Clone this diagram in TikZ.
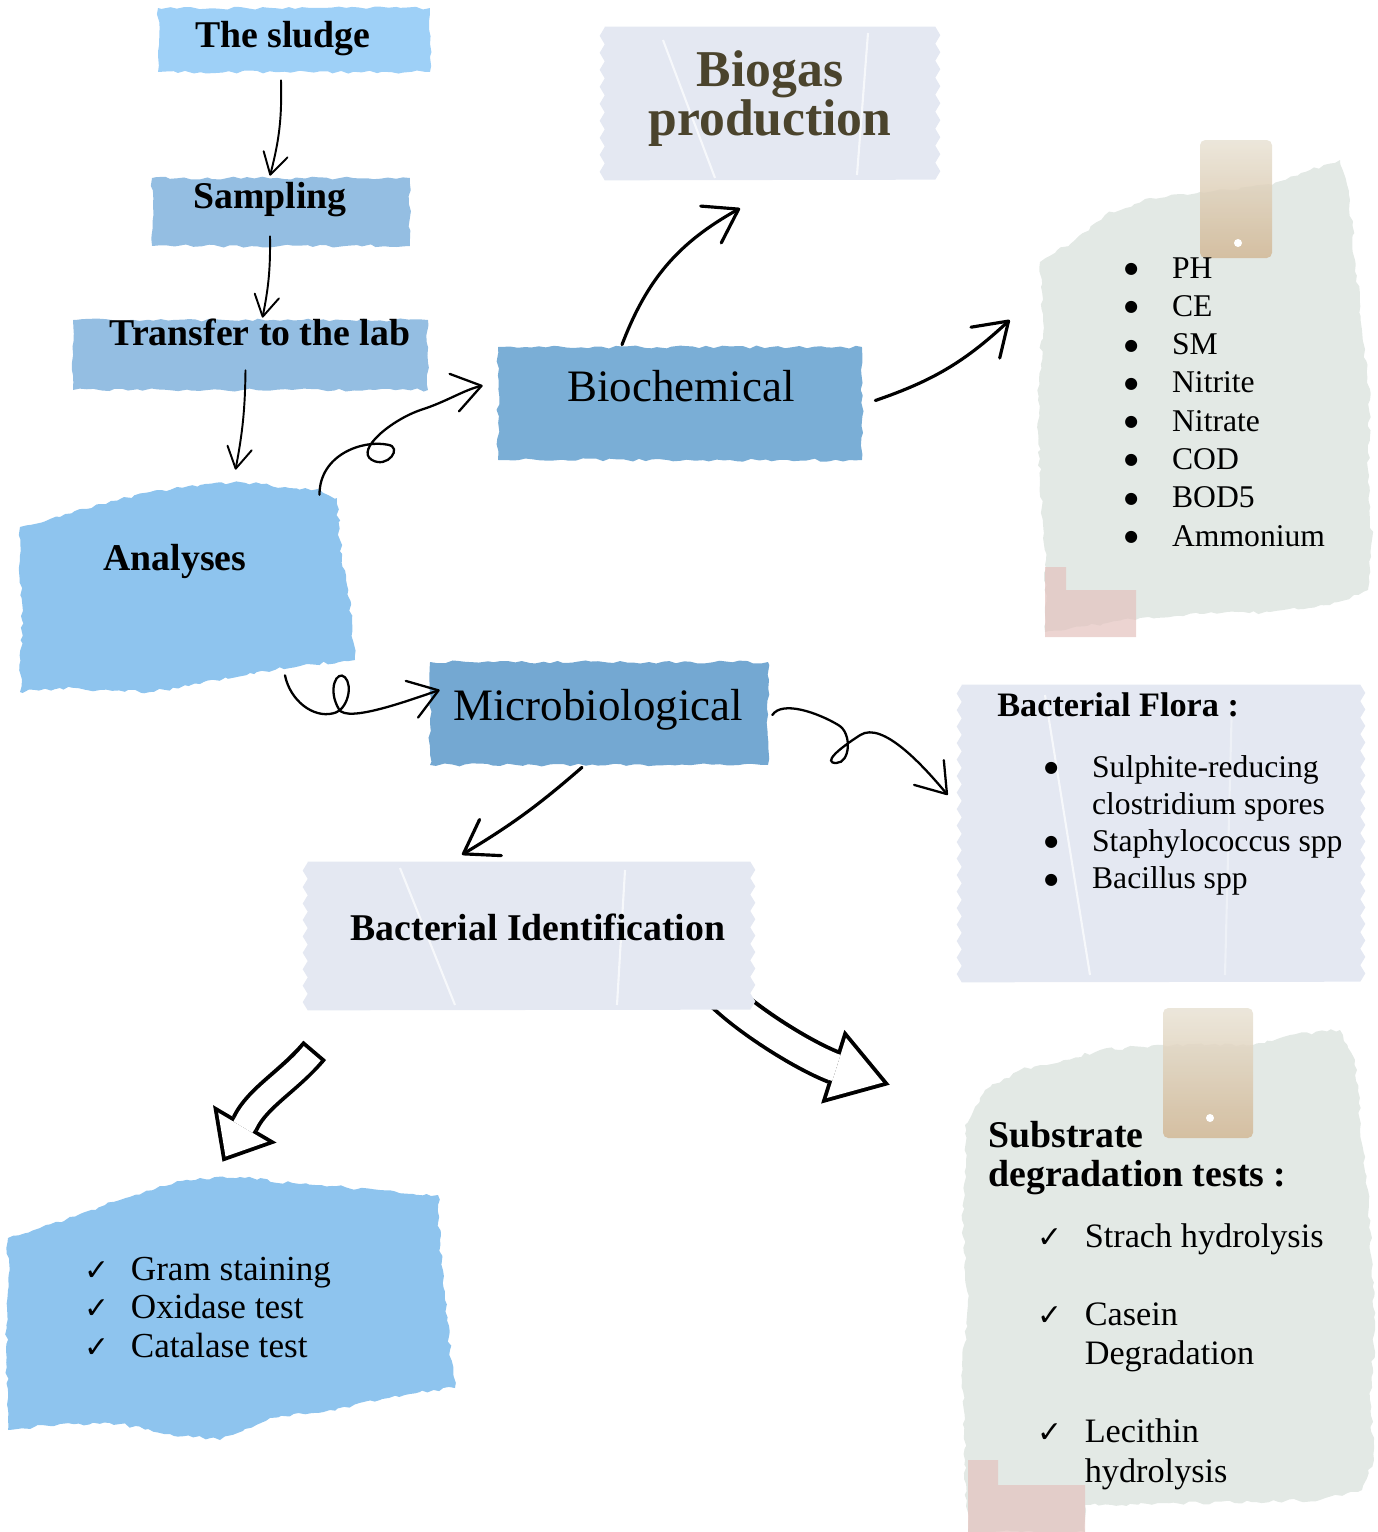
\documentclass[tikz,border=0pt]{standalone}
\usepackage{fontspec}
\setmainfont{Liberation Serif}
\newfontfamily\symbfont{DejaVu Sans}
\usepackage{tikz}
\usetikzlibrary{arrows.meta,decorations.pathmorphing,backgrounds,calc}

\definecolor{sludgeblue}{RGB}{158,208,247}
\definecolor{sampblue}{RGB}{148,190,226}
\definecolor{paperblue}{RGB}{142,196,238}
\definecolor{chemblue}{RGB}{122,174,214}
\definecolor{microblue}{RGB}{116,168,210}
\definecolor{tapegray}{RGB}{228,232,242}
\definecolor{papergray}{RGB}{227,233,229}
\definecolor{tagtan}{RGB}{210,184,150}
\definecolor{taglight}{RGB}{232,226,212}
\definecolor{tapepink}{RGB}{228,194,190}
\definecolor{biogastext}{RGB}{75,68,45}

\newcommand{\checkmk}{\makebox[14pt][l]{\symbfont\fontsize{17}{17}\selectfont ✓}}
\newcommand{\bul}{\makebox[8pt][l]{\raisebox{2.6pt}{\symbfont\fontsize{9}{9}\selectfont ●}}}

\pgfmathsetseed{11}

\begin{document}
\begin{tikzpicture}[
  x=0.02cm, y=-0.02cm,
  tape/.style={fill=#1, inner sep=0pt, decorate, decoration={random steps, segment length=4pt, amplitude=0.9pt}},
  clear/.style={inner sep=0pt},
  torn/.style={decorate, decoration={random steps, segment length=3pt, amplitude=1pt}},
  crease/.style={white, line width=1.2pt, opacity=0.7},
  boldtxt/.style={font=\fontsize{21.5}{24}\selectfont\bfseries, inner sep=0pt, anchor=base},
  bigtxt/.style={font=\fontsize{25.6}{30}\selectfont, inner sep=0pt, anchor=base},
  listtxt/.style={inner sep=0pt, anchor=base west},
  pen/.style={line width=1.1pt, line cap=round, -{Straight Barb[round, length=12pt, width=14pt]}},
  curl/.style={line width=1.3pt, line cap=round, -{Straight Barb[round, length=16pt, width=22pt]}},
  bigpen/.style={line width=1.8pt, line cap=round, -{Straight Barb[round, length=18pt, width=24pt]}},
  outline/.style n args={3}{line width=#1, -{Triangle[length=#2, width=#3, line width=0pt]}},
  hollow/.style n args={4}{white, line width=#1, shorten <=2.2pt, shorten >=#4,
    -{Triangle[length=#2, width=#3, line width=0pt]}},
]
\useasboundingbox (0,0) rectangle (1378,1532);

% --- torn papers ---
\fill[paperblue, torn] (20,527) -- (60,517) -- (100,504) -- (150,492) -- (200,485) -- (240,482)
  -- (285,487) -- (320,490) -- (337,498) -- (340,540) -- (346,580) -- (352,620) -- (355,660)
  -- (300,666) -- (250,673) -- (200,684) -- (150,692) -- (100,690) -- (60,688) -- (20,692)
  -- (22,620) -- (20,560) -- cycle;
\fill[paperblue, torn] (8,1238) -- (40,1228) -- (80,1214) -- (120,1200) -- (160,1186) -- (200,1178)
  -- (240,1177) -- (300,1184) -- (380,1190) -- (438,1195) -- (440,1240) -- (445,1300) -- (450,1350)
  -- (455,1388) -- (420,1392) -- (380,1400) -- (330,1410) -- (270,1418) -- (220,1440) -- (170,1434)
  -- (120,1424) -- (60,1424) -- (8,1430) -- (6,1350) -- (8,1290) -- cycle;
\fill[papergray, torn] (1040,262) -- (1075,240) -- (1105,215) -- (1150,198) -- (1200,192) -- (1272,185)
  -- (1310,170) -- (1340,160) -- (1350,200) -- (1355,260) -- (1362,330) -- (1370,400) -- (1368,470)
  -- (1372,540) -- (1368,590) -- (1330,605) -- (1270,612) -- (1200,614) -- (1140,618) -- (1045,632)
  -- (1046,560) -- (1040,480) -- (1038,400) -- (1043,320) -- cycle;
\fill[papergray, torn] (965,1125) -- (985,1090) -- (1020,1070) -- (1060,1062) -- (1100,1050) -- (1163,1045)
  -- (1253,1045) -- (1290,1035) -- (1340,1030) -- (1355,1060) -- (1360,1120) -- (1368,1190) -- (1372,1260)
  -- (1375,1330) -- (1370,1400) -- (1374,1460) -- (1362,1490) -- (1320,1500) -- (1200,1503) -- (1085,1505)
  -- (1085,1532) -- (968,1532) -- (965,1460) -- (962,1380) -- (968,1300) -- (962,1220) -- (966,1160) -- cycle;

% tags and bits of tape on the grey papers
\shade[top color=taglight, bottom color=tagtan, opacity=0.85, rounded corners=3pt] (1200,140) rectangle (1272,258);
\fill[white] (1238,243) circle (4);
\fill[tapepink, opacity=0.7] (1045,567) -- (1066,567) -- (1066,590) -- (1136,590) -- (1136,637) -- (1045,637) -- cycle;
\shade[top color=taglight, bottom color=tagtan, opacity=0.85, rounded corners=3pt] (1163,1008) rectangle (1253,1138);
\fill[white] (1210,1118) circle (4);
\fill[tapepink, opacity=0.7] (968,1460) -- (998,1460) -- (998,1485) -- (1085,1485) -- (1085,1532) -- (968,1532) -- cycle;

% --- tapes and paper boxes ---
\node[tape=sludgeblue, minimum width=5.44cm, minimum height=1.28cm] (sludge) at (294,40) {};
\node[tape=sampblue, minimum width=5.16cm, minimum height=1.36cm] (sampling) at (281,212) {};
\node[tape=sampblue, minimum width=7.1cm, minimum height=1.4cm] (transfer) at (250.5,355) {};
\node[tape=chemblue, minimum width=7.28cm, minimum height=2.26cm] (biochem) at (680,403.5) {};
\node[tape=microblue, minimum width=6.76cm, minimum height=2.06cm] (micro) at (599,713.5) {};
\node[clear, minimum width=6.6cm, minimum height=3.06cm] (biogas) at (770,103.5) {};
\node[clear, minimum width=8.84cm, minimum height=2.96cm] (ident) at (529,936) {};
\node[clear, minimum width=7.96cm, minimum height=5.94cm] (flora) at (1161,833.5) {};
\node[clear, minimum width=6.7cm, minimum height=4.2cm] (analyses) at (187.5,587) {};
\node[clear, minimum width=6.68cm, minimum height=9.4cm] (params) at (1205,395) {};
\node[clear, minimum width=8.98cm, minimum height=5.24cm] (gram) at (230.5,1309) {};
\node[clear, minimum width=8.26cm, minimum height=10.04cm] (substrate) at (1168.5,1281) {};

% grey tapes with pinked ends, under everything
\begin{scope}[on background layer]
  % fat arrow tucked under the identification tape
  \draw[outline={20pt}{34pt}{44pt}] ([shift={(-28,-15)}]ident.south east)
    .. controls +(30,28) and +(-30,-12) .. ([shift={(-129,37)}]substrate.north west)
    -- ([shift={(-72,55)}]substrate.north west);
  \draw[hollow={15.6pt}{27.7pt}{35.9pt}{4.1pt}] ([shift={(-28,-15)}]ident.south east)
    .. controls +(30,28) and +(-30,-12) .. ([shift={(-129,37)}]substrate.north west)
    -- ([shift={(-72,55)}]substrate.north west);
  \fill[tapegray] (biogas.north west) -- (biogas.north east)
    \foreach \i in {1,...,9} {-- ++(5,8.5) -- ++(-5,8.5)} -- (biogas.south west)
    \foreach \i in {1,...,9} {-- ++(-5,-8.5) -- ++(5,-8.5)} -- cycle;
  \fill[tapegray] (ident.north west) -- (ident.north east)
    \foreach \i in {1,...,9} {-- ++(5,8.22) -- ++(-5,8.22)} -- (ident.south west)
    \foreach \i in {1,...,9} {-- ++(-5,-8.22) -- ++(5,-8.22)} -- cycle;
  \fill[tapegray] (flora.north west) -- (flora.north east)
    \foreach \i in {1,...,18} {-- ++(5,8.25) -- ++(-5,8.25)} -- (flora.south west)
    \foreach \i in {1,...,18} {-- ++(-5,-8.25) -- ++(5,-8.25)} -- cycle;
  \draw[crease] (663,40) -- (715,178);
  \draw[crease] (868,33) -- (857,175);
  \draw[crease] (400,868) -- (455,1005);
  \draw[crease] (625,870) -- (617,1005);
  \draw[crease] (1045,695) -- (1090,975);
  \draw[crease, opacity=0.4] (1232,700) -- (1225,975);
\end{scope}

% --- texts ---
\node[boldtxt] (sludgetxt) at (283,47) {The sludge};
\node[boldtxt] (samplingtxt) at (270,208) {Sampling};
\node[boldtxt] (transfertxt) at (260,345) {Transfer to the lab};
\node[boldtxt] (analysestxt) at (175,570) {Analyses};
\node[bigtxt] (biochemtxt) at (681,401) {Biochemical};
\node[bigtxt] (microtxt) at (598,720) {Microbiological};
\node[boldtxt] (identtxt) at (538,940) {Bacterial Identification};
\node[align=center, text=biogastext, inner sep=0pt, font=\fontsize{29.4}{25.5}\selectfont\bfseries]
  (biogastxt) at (770,99) {Biogas\\production};

\node[listtxt, font=\fontsize{18}{21.8}\selectfont] (paramlist) at (1124,278)
  {\begin{tabular}[t]{@{}l@{\hspace{19.2pt}}l@{}}
   \bul & PH\\ \bul & CE\\ \bul & SM\\ \bul & Nitrite\\
   \bul & Nitrate\\ \bul & COD\\ \bul & BOD5\\ \bul & Ammonium
   \end{tabular}};

\node[listtxt, font=\fontsize{19.5}{22}\selectfont\bfseries] (floratitle) at (997,716) {Bacterial Flora :};
\node[listtxt, font=\fontsize{18}{21.2}\selectfont] (floralist) at (1044,777)
  {\begin{tabular}[t]{@{}l@{\hspace{19.2pt}}l@{}}
   \bul & Sulphite-reducing\\ & clostridium spores\\
   \bul & Staphylococcus spp\\ \bul & Bacillus spp
   \end{tabular}};

\node[listtxt, font=\fontsize{20}{22.1}\selectfont] (gramlist) at (84,1280)
  {\begin{tabular}[t]{@{}l@{\hspace{12.5pt}}l@{}}
   \checkmk & Gram staining\\ \checkmk & Oxidase test\\ \checkmk & Catalase test
   \end{tabular}};

\node[listtxt, font=\fontsize{21.5}{22.7}\selectfont\bfseries] (substitle) at (988,1147)
  {\begin{tabular}[t]{@{}l@{}}Substrate\\ degradation tests :\end{tabular}};
\node[listtxt, font=\fontsize{19.5}{22.3}\selectfont] (sublist) at (1037,1247)
  {\begin{tabular}[t]{@{}l@{\hspace{13pt}}l@{}}
   \checkmk & Strach hydrolysis\\ & \\
   \checkmk & Casein\\ & Degradation\\ & \\
   \checkmk & Lecithin\\ & hydrolysis
   \end{tabular}};

% --- connectors ---
\draw[pen] ([shift={(-13,8)}]sludge.south) to[bend left=8] ([shift={(-11,-2)}]sampling.north);
\draw[pen] ([shift={(-11,-10)}]sampling.south) to[bend left=6] ([shift={(12,-2)}]transfer.north);
\draw[pen] ([shift={(-5,-20)}]transfer.south) to[bend left=5] ([shift={(48,-12)}]analyses.north);

% curly ones
\draw[curl] ([shift={(132,13)}]analyses.north) .. controls +(0,-40) and +(-25,-5) .. ++(68,-50)
  .. controls +(16,2) and +(16,10) .. ++(-16,15)
  .. controls +(-16,-10) and +(-30,10) .. ++(50,-50)
  .. controls +(25,-8) and +(-20,5) .. ([shift={(-15,-18)}]biochem.west);
\draw[curl] ([shift={(97.5,-17)}]analyses.south) .. controls +(5,25) and +(-20,5) .. ++(48,38)
  .. controls +(15,-3) and +(8,8) .. ++(12,-36)
  .. controls +(-8,-8) and +(-12,-20) .. ++(-6,32)
  .. controls +(8,14) and +(-30,10) .. ([shift={(10,-23.5)}]micro.west);
\draw[curl] ([shift={(4,1.5)}]micro.east) .. controls +(10,-15) and +(-20,-12) .. ++(66,10)
  .. controls +(14,8) and +(14,0) .. ++(-2,38)
  .. controls +(-14,0) and +(-22,14) .. ++(24,-28)
  .. controls +(22,-14) and +(-25,-30) .. ([shift={(-14,-38.5)}]flora.west);

\draw[bigpen] ([shift={(-58,-2)}]biochem.north) to[bend left=20] ([shift={(-30,28)}]biogas.south);
\draw[bigpen] ([shift={(13,-3)}]biochem.east) to[bend right=12] ([shift={(-28,-75)}]params.west);
\draw[bigpen] ([shift={(-17,2)}]micro.south) to[bend left=5] ([shift={(-67,-7)}]ident.north);

% fat hollow arrow to the staining tests
\draw[outline={17pt}{25pt}{42pt}] ([shift={(7,40)}]ident.south west)
  .. controls +(-25,30) and +(12,-25) .. ([shift={(15,-55)}]gram.north)
  -- ([shift={(-8,-16)}]gram.north);
\draw[hollow={12.6pt}{19.4pt}{32.6pt}{3.4pt}] ([shift={(7,40)}]ident.south west)
  .. controls +(-25,30) and +(12,-25) .. ([shift={(15,-55)}]gram.north)
  -- ([shift={(-8,-16)}]gram.north);

\end{tikzpicture}
\end{document}
